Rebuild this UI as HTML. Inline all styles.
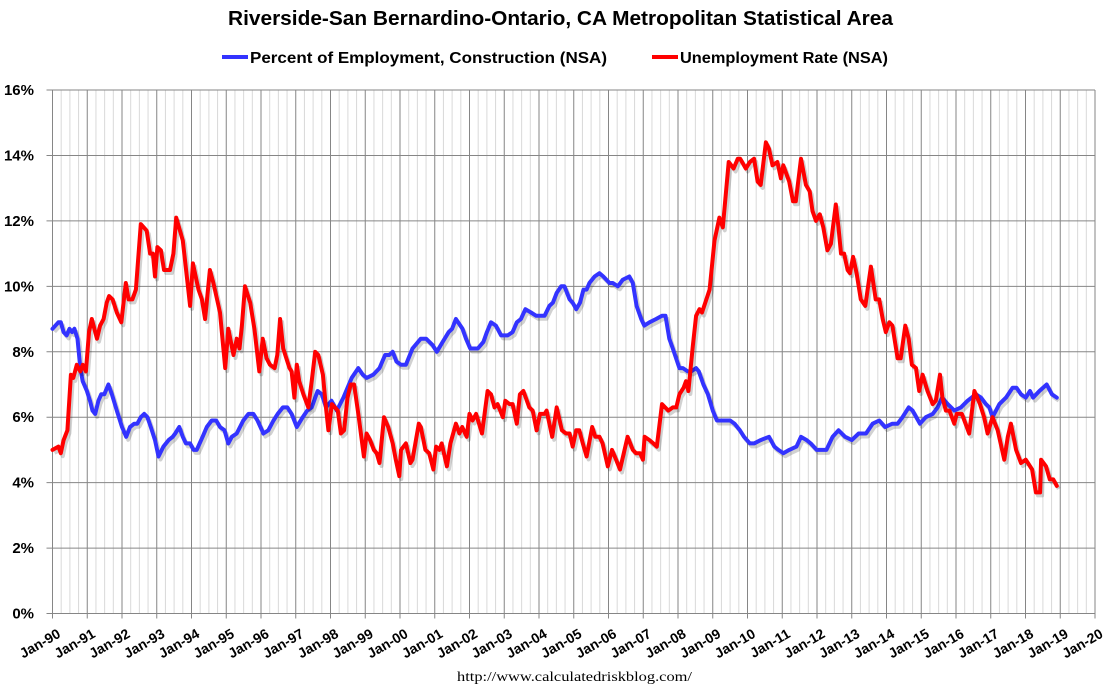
<!DOCTYPE html>
<html><head><meta charset="utf-8"><style>
html,body{margin:0;padding:0;background:#fff;}
svg{display:block;font-family:"Liberation Sans",Arial,sans-serif;}
</style></head><body>
<svg id="chart" width="1113" height="696">
<text x="228" y="25" font-size="20" font-weight="bold" fill="#000" textLength="665" lengthAdjust="spacingAndGlyphs">Riverside-San Bernardino-Ontario, CA Metropolitan Statistical Area</text>
<g>
<g><line x1="222" y1="57" x2="248" y2="57" stroke="#3333ff" stroke-width="4"/><text x="250" y="63" font-size="16" font-weight="bold" textLength="357" lengthAdjust="spacingAndGlyphs">Percent of Employment, Construction (NSA)</text></g>
<g><line x1="652" y1="57" x2="678" y2="57" stroke="#ff0000" stroke-width="4"/><text x="680" y="63" font-size="16" font-weight="bold" textLength="208" lengthAdjust="spacingAndGlyphs">Unemployment Rate (NSA)</text></g>
</g>
<g id="grid"></g>
<g id="yaxis"></g>
<g id="xaxis"></g>
<g id="series"></g>
<text x="457" y="681" font-size="14" font-family="Liberation Serif, serif" textLength="235" lengthAdjust="spacingAndGlyphs">http://www.calculatedriskblog.com/</text>
</svg>
<script>
const yTicks=[0,2,4,6,8,10,12,14,16];
const xYears=[1990,1991,1992,1993,1994,1995,1996,1997,1998,1999,2000,2001,2002,2003,2004,2005,2006,2007,2008,2009,2010,2011,2012,2013,2014,2015,2016,2017,2018,2019,2020];
const unempDates=[1990.00,1990.17,1990.24,1990.32,1990.43,1990.53,1990.60,1990.70,1990.80,1990.87,1990.96,1991.05,1991.13,1991.28,1991.37,1991.47,1991.56,1991.63,1991.73,1991.85,1991.98,1992.11,1992.19,1992.30,1992.40,1992.45,1992.54,1992.71,1992.81,1992.89,1992.95,1993.02,1993.12,1993.21,1993.38,1993.48,1993.56,1993.75,1993.96,1994.04,1994.20,1994.30,1994.39,1994.53,1994.63,1994.82,1994.97,1995.06,1995.21,1995.30,1995.38,1995.45,1995.54,1995.69,1995.81,1995.95,1996.05,1996.16,1996.26,1996.39,1996.47,1996.55,1996.64,1996.82,1996.88,1996.96,1997.03,1997.10,1997.22,1997.36,1997.46,1997.56,1997.65,1997.78,1997.86,1997.94,1998.04,1998.21,1998.30,1998.39,1998.49,1998.58,1998.68,1998.80,1998.96,1999.04,1999.14,1999.25,1999.33,1999.41,1999.54,1999.66,1999.79,1999.88,1999.98,
2000.03,2000.17,2000.30,2000.36,2000.54,2000.60,2000.73,2000.84,2000.96,2001.04,2001.13,2001.20,2001.35,2001.45,2001.61,2001.71,2001.79,2001.92,2002.00,2002.09,2002.19,2002.36,2002.52,2002.62,2002.72,2002.81,2002.96,2003.03,2003.15,2003.24,2003.36,2003.45,2003.55,2003.72,2003.82,2003.93,2004.03,2004.16,2004.22,2004.38,2004.51,2004.66,2004.78,2004.88,2004.97,2005.07,2005.16,2005.26,2005.37,2005.53,2005.62,2005.74,2005.83,2005.98,2006.10,2006.22,2006.33,2006.55,2006.70,2006.79,2006.91,2006.99,2007.04,2007.18,2007.29,2007.39,2007.54,2007.72,2007.85,2007.95,2008.04,2008.16,2008.23,2008.30,2008.43,2008.52,2008.62,2008.69,2008.91,2009.05,2009.19,2009.29,2009.46,2009.60,2009.72,
2009.79,2009.95,2010.07,2010.19,2010.29,2010.38,2010.53,2010.62,2010.72,2010.86,2010.96,2011.03,2011.20,2011.31,2011.39,2011.54,2011.68,2011.79,2011.87,2011.97,2012.08,2012.18,2012.30,2012.40,2012.54,2012.62,2012.69,2012.78,2012.88,2012.95,2013.04,2013.14,2013.26,2013.39,2013.55,2013.69,2013.79,2013.89,2013.98,2014.08,2014.17,2014.32,2014.41,2014.54,2014.64,2014.73,2014.85,2014.94,2015.04,2015.18,2015.33,2015.42,2015.54,2015.61,2015.71,2015.81,2015.95,2016.02,2016.17,2016.38,2016.53,2016.69,2016.81,2016.91,2017.05,2017.20,2017.39,2017.49,2017.58,2017.73,2017.87,2018.01,2018.19,2018.30,2018.42,2018.45,2018.59,2018.70,2018.80,2018.90];
const unempValues=[5.0,5.1,4.9,5.3,5.6,7.3,7.2,7.6,7.4,7.6,7.4,8.6,9.0,8.4,8.8,9.0,9.5,9.7,9.6,9.2,8.9,10.1,9.6,9.6,9.9,10.6,11.9,11.7,11.0,11.0,10.3,11.2,11.1,10.5,10.5,11.0,12.1,11.4,9.4,10.7,9.9,9.6,9.0,10.5,10.1,9.2,7.5,8.7,7.9,8.4,8.1,8.8,10.0,9.5,8.7,7.4,8.4,7.8,7.6,7.5,7.9,9.0,8.1,7.5,7.4,6.6,7.6,7.1,6.7,6.3,7.1,8.0,7.9,7.3,6.4,5.6,6.4,6.2,5.5,5.6,6.6,7.0,7.0,6.1,4.8,5.5,5.3,5.0,4.9,4.6,6.0,5.7,5.2,4.7,4.2,
5.0,5.2,4.6,4.7,5.8,5.7,5.0,4.9,4.4,5.1,5.0,5.2,4.5,5.2,5.8,5.5,5.7,5.4,6.1,5.9,6.1,5.5,6.8,6.7,6.3,6.4,6.0,6.5,6.4,6.4,5.8,6.7,6.8,6.3,6.2,5.6,6.1,6.1,6.2,5.4,6.3,5.6,5.5,5.5,5.1,5.6,5.6,5.2,4.8,5.7,5.4,5.4,5.2,4.5,5.0,4.7,4.4,5.4,5.0,4.9,4.9,4.7,5.4,5.3,5.2,5.1,6.4,6.2,6.3,6.3,6.7,6.9,7.1,6.8,8.2,9.1,9.3,9.2,9.9,11.4,12.1,11.8,13.8,13.6,13.9,
13.9,13.6,13.8,13.9,13.2,13.1,14.4,14.2,13.7,13.8,13.3,13.7,13.2,12.6,12.6,13.9,13.1,12.9,12.3,12.0,12.2,11.8,11.1,11.3,12.5,11.8,11.0,11.0,10.5,10.4,10.9,10.4,9.6,9.4,10.6,9.6,9.6,9.0,8.6,8.9,8.8,7.8,7.8,8.8,8.4,7.6,7.5,6.8,7.3,6.8,6.4,6.5,7.3,6.6,6.2,6.2,5.8,6.1,6.1,5.5,6.8,6.4,6.0,5.5,6.0,5.6,4.7,5.4,5.8,5.0,4.6,4.7,4.4,3.7,3.7,4.7,4.5,4.1,4.1,3.9];
const constDates=[1990.00,1990.17,1990.24,1990.32,1990.41,1990.49,1990.56,1990.63,1990.72,1990.80,1990.87,1990.99,1991.08,1991.15,1991.23,1991.32,1991.40,1991.49,1991.61,1991.71,1991.85,1992.00,1992.12,1992.23,1992.35,1992.44,1992.54,1992.64,1992.73,1992.83,1992.95,1993.05,1993.19,1993.34,1993.46,1993.53,1993.65,1993.75,1993.84,1993.96,1994.06,1994.15,1994.32,1994.44,1994.58,1994.71,1994.82,1994.95,1995.06,1995.16,1995.30,1995.49,1995.64,1995.78,1995.90,1996.07,1996.21,1996.36,1996.48,1996.63,1996.76,1996.88,1997.03,1997.20,1997.33,1997.46,1997.63,1997.75,1997.87,1998.03,1998.18,1998.37,1998.61,1998.80,1998.93,1999.04,1999.23,1999.41,1999.57,1999.69,1999.79,1999.90,
2000.03,2000.17,2000.36,2000.60,2000.75,2000.94,2001.06,2001.23,2001.40,2001.50,2001.61,2001.80,2001.90,2002.02,2002.24,2002.40,2002.50,2002.62,2002.76,2002.91,2003.10,2003.24,2003.36,2003.48,2003.61,2003.77,2003.92,2004.16,2004.30,2004.40,2004.51,2004.64,2004.73,2004.88,2004.97,2005.07,2005.18,2005.28,2005.37,2005.45,2005.60,2005.74,2005.85,2006.03,2006.12,2006.27,2006.41,2006.60,2006.70,2006.81,2006.94,2007.03,2007.18,2007.37,2007.54,2007.64,2007.75,2007.85,2008.04,2008.14,2008.28,2008.38,2008.52,2008.60,2008.73,2008.86,2009.00,2009.12,2009.29,2009.39,2009.50,2009.63,
2009.78,2009.90,2010.07,2010.19,2010.38,2010.62,2010.77,2010.89,2011.03,2011.20,2011.41,2011.54,2011.70,2011.82,2011.99,2012.11,2012.27,2012.45,2012.62,2012.81,2013.00,2013.20,2013.41,2013.60,2013.79,2013.96,2014.17,2014.32,2014.46,2014.64,2014.75,2014.96,2015.13,2015.33,2015.47,2015.60,2015.76,2015.95,2016.14,2016.33,2016.57,2016.72,2016.86,2016.96,2017.05,2017.25,2017.44,2017.63,2017.74,2017.87,2018.01,2018.13,2018.22,2018.40,2018.61,2018.76,2018.90];
const constValues=[8.7,8.9,8.9,8.6,8.5,8.7,8.6,8.7,8.4,7.5,7.1,6.8,6.5,6.2,6.1,6.5,6.7,6.7,7.0,6.7,6.2,5.7,5.4,5.7,5.8,5.8,6.0,6.1,6.0,5.7,5.3,4.8,5.1,5.3,5.4,5.5,5.7,5.4,5.2,5.2,5.0,5.0,5.4,5.7,5.9,5.9,5.7,5.6,5.2,5.4,5.5,5.9,6.1,6.1,5.9,5.5,5.6,5.9,6.1,6.3,6.3,6.1,5.7,6.0,6.2,6.3,6.8,6.7,6.3,6.5,6.2,6.6,7.2,7.5,7.3,7.2,7.3,7.5,7.9,7.9,8.0,7.7,
7.6,7.6,8.1,8.4,8.4,8.2,8.0,8.3,8.6,8.7,9.0,8.7,8.4,8.1,8.1,8.3,8.6,8.9,8.8,8.5,8.5,8.6,8.9,9.0,9.3,9.2,9.1,9.1,9.4,9.5,9.8,10.0,10.0,9.6,9.5,9.3,9.5,9.9,9.9,10.1,10.3,10.4,10.3,10.1,10.1,10.0,10.2,10.3,10.1,9.4,9.0,8.8,8.9,9.0,9.1,9.1,8.4,8.1,7.5,7.5,7.4,7.4,7.5,7.4,7.0,6.7,6.2,5.9,5.9,5.9,5.9,5.8,
5.6,5.4,5.2,5.2,5.3,5.4,5.1,5.0,4.9,5.0,5.1,5.4,5.3,5.2,5.0,5.0,5.0,5.4,5.6,5.4,5.3,5.5,5.5,5.8,5.9,5.7,5.8,5.8,6.0,6.3,6.2,5.8,6.0,6.1,6.3,6.6,6.4,6.2,6.3,6.5,6.7,6.6,6.4,6.3,6.0,6.4,6.6,6.9,6.9,6.7,6.6,6.8,6.6,6.8,7.0,6.7,6.6];

const NS='http://www.w3.org/2000/svg';
const L=52.5,R=1095,T=90,B=613.5;
const xs=y=>L+(y-1990)/30*(R-L);
const ys=v=>B-v/16*(B-T);
function mk(tag,attrs,parent){const e=document.createElementNS(NS,tag);for(const k in attrs)e.setAttribute(k,attrs[k]);parent.appendChild(e);return e;}
const grid=document.getElementById('grid'),yax=document.getElementById('yaxis'),xax=document.getElementById('xaxis'),ser=document.getElementById('series');
for(let q=1990;q<2020;q+=0.25){if(Math.abs(q-Math.round(q))<0.01)continue;
const g=mk('line',{x1:xs(q),x2:xs(q),y1:T,y2:B,stroke:'#d9d9d9','stroke-width':1},grid);

}
xYears.forEach(yr=>{
const g=mk('line',{x1:xs(yr),x2:xs(yr),y1:T,y2:B+5,stroke:'#868686','stroke-width':1},grid);


const x=xs(yr),yy=B+23;
const t=mk('text',{x:x+9,y:yy,'text-anchor':'end','font-size':14,'font-weight':'bold',transform:`rotate(-30 ${x+9} ${yy})`},xax);
t.textContent='Jan-'+String(yr%100).padStart(2,'0');

});
yTicks.forEach(v=>{
const g=mk('line',{x1:L-6,x2:R,y1:ys(v),y2:ys(v),stroke:'#868686','stroke-width':1},grid);


const t=mk('text',{x:34,y:ys(v)+5,'text-anchor':'end','font-size':15,'font-weight':'bold'},yax);
t.textContent=v+'%';

});
function line(dates,vals,color,name){
const d=dates.map((t,i)=>(i?'L':'M')+xs(t).toFixed(1)+' '+ys(vals[i]).toFixed(1)).join(' ');
const sh=mk('path',{d:d,fill:'none',stroke:'rgba(0,0,0,0.18)','stroke-width':4,transform:'translate(2,3)','stroke-linejoin':'round'},ser);


const p=mk('path',{d:d,fill:'none',stroke:color,'stroke-width':4,'stroke-linejoin':'round','stroke-linecap':'round'},ser);

}
line(constDates,constValues,'#3333ff','construction-share-line');
line(unempDates,unempValues,'#ff0000','unemployment-rate-line');
</script>
</body></html>
